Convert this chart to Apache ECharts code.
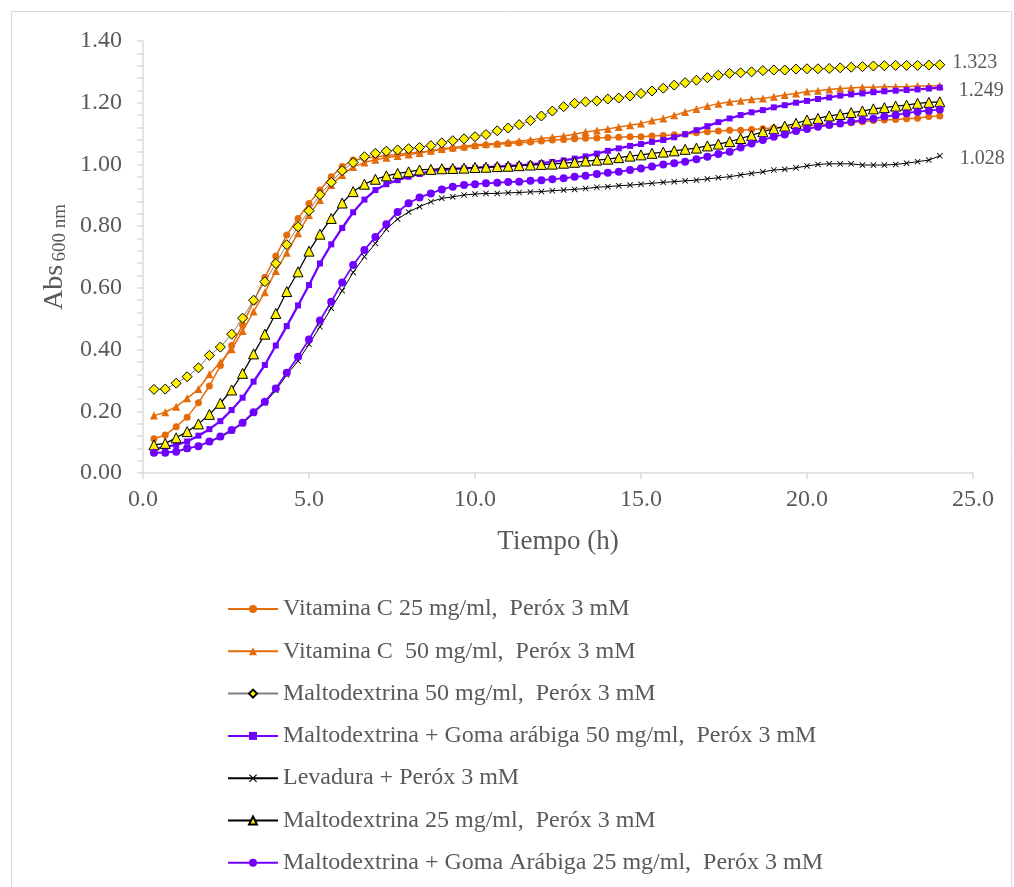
<!DOCTYPE html>
<html>
<head>
<meta charset="utf-8">
<title>Abs 600 nm vs Tiempo</title>
<script src="https://cdn.jsdelivr.net/npm/echarts@6/dist/echarts.min.js"></script>
<style>
  html, body { margin: 0; padding: 0; background: #fff; }
  #chart { width: 1014px; height: 887px; }
</style>
</head>
<body>
<div id="chart"></div>
<script>
// tiempo de muestreo (h)
const tiempo = [0.33,0.67,1.00,1.33,1.67,2.00,2.33,2.67,3.00,3.33,3.67,4.00,4.33,4.67,5.00,5.33,5.67,6.00,
  6.33,6.67,7.00,7.33,7.67,8.00,8.33,8.67,9.00,9.33,9.67,10.00,10.33,10.67,11.00,11.33,11.67,12.00,
  12.33,12.67,13.00,13.33,13.67,14.00,14.33,14.67,15.00,15.33,15.67,16.00,16.33,16.67,17.00,17.33,17.67,18.00,
  18.33,18.67,19.00,19.33,19.67,20.00,20.33,20.67,21.00,21.33,21.67,22.00,22.33,22.67,23.00,23.33,23.67,24.00];

const vitC25 = [0.111,0.123,0.150,0.181,0.228,0.282,0.348,0.413,0.480,0.555,0.634,0.703,0.771,0.825,0.873,0.917,0.960,0.993,
  1.014,1.020,1.025,1.028,1.033,1.036,1.040,1.043,1.049,1.052,1.055,1.060,1.063,1.065,1.068,1.070,1.073,1.076,
  1.079,1.081,1.083,1.085,1.086,1.087,1.088,1.090,1.090,1.092,1.094,1.096,1.098,1.103,1.106,1.108,1.111,1.111,
  1.113,1.116,1.118,1.120,1.122,1.124,1.128,1.130,1.133,1.135,1.138,1.142,1.144,1.146,1.148,1.150,1.155,1.157];

const vitC50 = [0.186,0.197,0.215,0.242,0.272,0.320,0.359,0.401,0.460,0.523,0.586,0.655,0.714,0.777,0.836,0.885,0.933,0.966,
  0.992,1.006,1.015,1.022,1.027,1.032,1.037,1.044,1.050,1.055,1.059,1.063,1.066,1.068,1.072,1.075,1.079,1.084,
  1.088,1.092,1.098,1.105,1.110,1.115,1.121,1.127,1.133,1.142,1.149,1.159,1.170,1.180,1.189,1.197,1.203,1.206,
  1.211,1.214,1.219,1.225,1.230,1.236,1.239,1.243,1.246,1.248,1.250,1.250,1.252,1.252,1.252,1.254,1.254,1.255];

const malto50 = [0.271,0.272,0.291,0.312,0.341,0.381,0.408,0.450,0.502,0.560,0.620,0.679,0.740,0.798,0.850,0.902,0.942,0.980,
  1.006,1.025,1.036,1.043,1.047,1.051,1.055,1.061,1.070,1.077,1.083,1.090,1.097,1.109,1.118,1.129,1.142,1.157,
  1.173,1.187,1.198,1.203,1.206,1.212,1.215,1.222,1.230,1.238,1.247,1.257,1.265,1.273,1.281,1.289,1.295,1.297,
  1.300,1.304,1.306,1.306,1.309,1.310,1.310,1.311,1.313,1.315,1.317,1.319,1.320,1.321,1.321,1.321,1.322,1.323];

const maltoGoma50 = [0.077,0.085,0.091,0.102,0.121,0.142,0.168,0.204,0.244,0.296,0.350,0.413,0.476,0.543,0.609,0.679,0.741,0.794,
  0.845,0.886,0.917,0.936,0.949,0.960,0.969,0.978,0.982,0.985,0.987,0.989,0.991,0.993,0.995,0.997,1.000,1.004,
  1.008,1.013,1.019,1.026,1.035,1.044,1.052,1.060,1.066,1.073,1.079,1.088,1.098,1.111,1.124,1.137,1.149,1.160,
  1.169,1.176,1.185,1.192,1.200,1.206,1.212,1.217,1.223,1.227,1.230,1.234,1.237,1.239,1.241,1.243,1.246,1.249];

const levadura = [0.065,0.066,0.070,0.078,0.087,0.100,0.116,0.136,0.160,0.193,0.227,0.268,0.318,0.363,0.417,0.474,0.534,0.591,
  0.650,0.701,0.744,0.790,0.823,0.846,0.863,0.879,0.890,0.895,0.901,0.904,0.906,0.906,0.908,0.909,0.911,0.912,
  0.915,0.917,0.919,0.922,0.926,0.928,0.931,0.933,0.936,0.939,0.942,0.944,0.947,0.949,0.953,0.957,0.960,0.966,
  0.971,0.976,0.982,0.984,0.989,0.995,1.000,1.002,1.002,1.002,0.998,0.998,0.998,1.000,1.004,1.009,1.014,1.028];

const malto25 = [0.091,0.096,0.114,0.134,0.159,0.190,0.226,0.269,0.323,0.386,0.450,0.517,0.588,0.652,0.719,0.774,0.825,0.875,
  0.912,0.936,0.952,0.963,0.971,0.976,0.982,0.984,0.986,0.987,0.988,0.990,0.991,0.993,0.994,0.996,0.998,1.000,
  1.001,1.004,1.007,1.011,1.014,1.017,1.022,1.027,1.031,1.036,1.040,1.044,1.049,1.053,1.060,1.066,1.074,1.084,
  1.094,1.106,1.115,1.124,1.133,1.144,1.149,1.157,1.162,1.168,1.173,1.180,1.184,1.189,1.192,1.198,1.201,1.203];

const maltoGoma25 = [0.066,0.066,0.069,0.080,0.087,0.102,0.118,0.139,0.163,0.197,0.231,0.274,0.325,0.377,0.433,0.494,0.555,0.617,
  0.674,0.723,0.765,0.806,0.846,0.874,0.893,0.906,0.919,0.928,0.933,0.936,0.939,0.941,0.943,0.944,0.947,0.949,
  0.952,0.955,0.960,0.963,0.969,0.973,0.976,0.982,0.987,0.993,1.000,1.004,1.009,1.017,1.025,1.034,1.041,1.055,
  1.068,1.079,1.090,1.097,1.108,1.115,1.122,1.128,1.133,1.138,1.144,1.148,1.155,1.160,1.166,1.171,1.174,1.178];

const nombres = [
  'Vitamina C 25 mg/ml,  Peróx 3 mM',
  'Vitamina C  50 mg/ml,  Peróx 3 mM',
  'Maltodextrina 50 mg/ml,  Peróx 3 mM',
  'Maltodextrina + Goma arábiga 50 mg/ml,  Peróx 3 mM',
  'Levadura + Peróx 3 mM',
  'Maltodextrina 25 mg/ml,  Peróx 3 mM',
  'Maltodextrina + Goma Arábiga 25 mg/ml,  Peróx 3 mM'
];

// etiquetas de valor final
const etiquetasFinales = { 2: '1.323', 3: '1.249', 4: '1.028' };

const serif = '"Liberation Serif", "Times New Roman", serif';
const gris = '#595959';
const naranja = '#E46C0A';
const morado = '#7000FF';
const amarillo = '#FFF000';
const cruz = 'path://M0,1L1,0L5,4L9,0L10,1L6,5L10,9L9,10L5,6L1,10L0,9L4,5Z';

const estilos = [
  { symbol: 'circle', symbolSize: 7, line: naranja, width: 1.5, fill: naranja, border: naranja },
  { symbol: 'triangle', symbolSize: 8, line: naranja, width: 1.5, fill: naranja, border: naranja },
  { symbol: 'diamond', symbolSize: 10, line: '#808080', width: 1, fill: amarillo, border: '#000' },
  { symbol: 'rect', symbolSize: 6, line: morado, width: 2.25, fill: morado, border: morado },
  { symbol: cruz, symbolSize: 6, line: '#000', width: 1, fill: '#000', border: '#000' },
  { symbol: 'triangle', symbolSize: 10, line: '#000', width: 1.25, fill: amarillo, border: '#000' },
  { symbol: 'circle', symbolSize: 8, line: morado, width: 1.75, fill: morado, border: morado }
];

const valores = [vitC25, vitC50, malto50, maltoGoma50, levadura, malto25, maltoGoma25];

const offsetsEtiqueta = { 2: [2, -2], 3: [11, 3], 4: [12, 3] };

const series = valores.map((vals, i) => {
  const st = estilos[i];
  const data = vals.map((v, j) => [tiempo[j], v]);
  if (etiquetasFinales[i]) {
    const last = data.length - 1;
    data[last] = {
      value: data[last],
      label: {
        show: true,
        position: 'right',
        offset: offsetsEtiqueta[i],
        formatter: etiquetasFinales[i],
        fontFamily: serif,
        fontSize: 20,
        color: gris
      }
    };
  }
  return {
    name: nombres[i],
    type: 'line',
    data: data,
    symbol: st.symbol,
    symbolSize: st.symbolSize,
    showAllSymbol: true,
    smooth: false,
    animation: false,
    lineStyle: { color: st.line, width: st.width },
    itemStyle: { color: st.fill, borderColor: st.border, borderWidth: st.border === '#000' && st.fill !== '#000' ? 1 : 0 },
    emphasis: { disabled: true }
  };
});

const chart = echarts.init(document.getElementById('chart'));
chart.setOption({
  backgroundColor: '#fff',
  animation: false,
  grid: { left: 143, right: 41, top: 41, bottom: 414, containLabel: false },
  graphic: [{
    type: 'rect',
    shape: { x: 11.5, y: 11.5, width: 1000, height: 900 },
    style: { fill: 'none', stroke: '#D9D9D9', lineWidth: 1 },
    silent: true
  }],
  xAxis: {
    type: 'value',
    min: 0, max: 25, interval: 5,
    name: 'Tiempo (h)',
    nameLocation: 'middle',
    nameGap: 55,
    nameTextStyle: { fontFamily: serif, fontSize: 27, color: gris },
    axisLine: { lineStyle: { color: '#D9D9D9', width: 1.5 } },
    axisTick: { show: true, inside: false, length: 6, lineStyle: { color: '#D9D9D9', width: 1.5 } },
    splitLine: { show: false },
    axisLabel: {
      margin: 15, fontFamily: serif, fontSize: 24, color: gris,
      formatter: v => v.toFixed(1)
    }
  },
  yAxis: {
    type: 'value',
    min: 0, max: 1.4, interval: 0.2,
    name: '{a|Abs} {b|600 nm}',
    nameLocation: 'middle',
    nameGap: 71,
    nameRotate: 90,
    nameTextStyle: {
      rich: {
        a: { fontFamily: serif, fontSize: 28, color: gris, verticalAlign: 'bottom' },
        b: { fontFamily: serif, fontSize: 19, color: gris, verticalAlign: 'bottom' }
      }
    },
    axisLine: { show: true, lineStyle: { color: '#D9D9D9', width: 1.5 } },
    axisTick: { show: true, inside: false, length: 6, lineStyle: { color: '#D9D9D9', width: 1.5 } },
    minorTick: { show: true, splitNumber: 5, length: 6, lineStyle: { color: '#D9D9D9', width: 1.5 } },
    splitLine: { show: false },
    minorSplitLine: { show: false },
    axisLabel: {
      margin: 21, fontFamily: serif, fontSize: 24, color: gris,
      formatter: v => v.toFixed(2)
    }
  },
  legend: {
    orient: 'vertical',
    left: 222,
    top: 591,
    itemWidth: 50,
    itemHeight: 10,
    itemGap: 16.3,
    data: nombres,
    textStyle: { fontFamily: serif, fontSize: 24, color: gris, lineHeight: 26 },
    selectedMode: false
  },
  series: series
});
</script>
</body>
</html>
